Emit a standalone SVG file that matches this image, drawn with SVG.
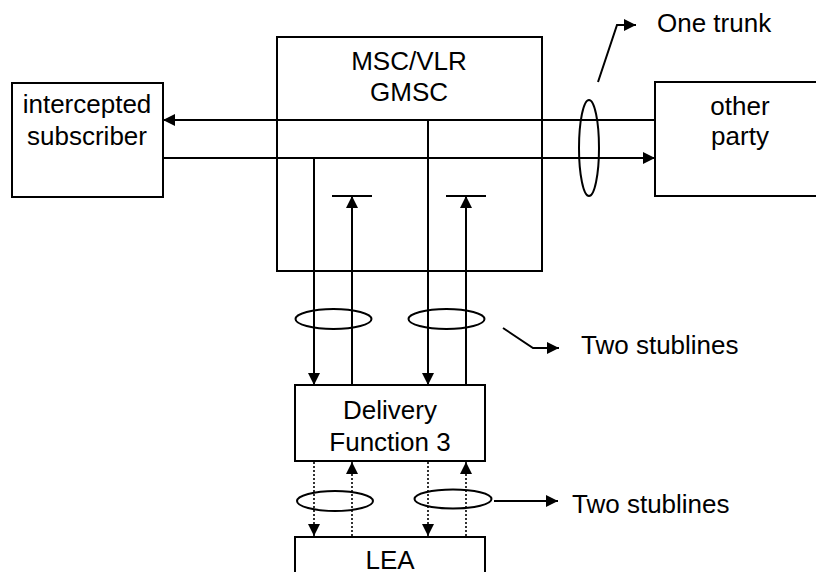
<svg xmlns="http://www.w3.org/2000/svg" width="816" height="572" viewBox="0 0 816 572">
<style>
.box{fill:#fff;stroke:#000;stroke-width:2}
.ln{fill:none;stroke:#000;stroke-width:2}
.dot{fill:none;stroke:#000;stroke-width:1.6;stroke-dasharray:2 2}
.el{fill:none;stroke:#000;stroke-width:2}
text{font-family:"Liberation Sans",Arial,sans-serif;font-size:26px;fill:#000}
.c{text-anchor:middle}
</style>
<defs>
<marker id="ah" markerUnits="userSpaceOnUse" markerWidth="14" markerHeight="14" viewBox="0 0 14 14" refX="13" refY="7" orient="auto">
<path d="M1,1 L13,7 L1,13 Z" fill="#000"/>
</marker>
</defs>
<rect width="816" height="572" fill="#fff"/>
<g id="msc">
<rect class="box" x="277" y="37" width="265" height="234"/>
<text class="c" x="409" y="70">MSC/VLR</text>
<text class="c" x="409" y="101">GMSC</text>
</g>
<g id="subscriber">
<rect class="box" x="12" y="83" width="151" height="114"/>
<text class="c" x="87" y="113">intercepted</text>
<text class="c" x="87" y="145">subscriber</text>
</g>
<g id="otherparty">
<rect class="box" x="655" y="82" width="180" height="114"/>
<text class="c" x="740" y="115">other</text>
<text class="c" x="740" y="145">party</text>
</g>
<g id="df3">
<rect class="box" x="295" y="385" width="190" height="76"/>
<text class="c" x="390" y="419">Delivery</text>
<text class="c" x="390" y="451">Function 3</text>
</g>
<g id="lea">
<rect class="box" x="295" y="537" width="190" height="60"/>
<text class="c" x="390" y="569">LEA</text>
</g>
<g id="connectors">
<line class="ln" x1="655" y1="120" x2="163" y2="120" marker-end="url(#ah)"/>
<line class="ln" x1="163" y1="158" x2="655" y2="158" marker-end="url(#ah)"/>
<line class="ln" x1="314" y1="158" x2="314" y2="385" marker-end="url(#ah)"/>
<line class="ln" x1="428" y1="120" x2="428" y2="385" marker-end="url(#ah)"/>
<line class="ln" x1="352" y1="385" x2="352" y2="196" marker-end="url(#ah)"/>
<line class="ln" x1="466" y1="385" x2="466" y2="196" marker-end="url(#ah)"/>
<line class="ln" x1="332" y1="196" x2="372" y2="196"/>
<line class="ln" x1="446" y1="196" x2="486" y2="196"/>
<line class="dot" x1="314" y1="462" x2="314" y2="536" marker-end="url(#ah)"/>
<line class="dot" x1="428" y1="462" x2="428" y2="536" marker-end="url(#ah)"/>
<line class="dot" x1="352" y1="536" x2="352" y2="462" marker-end="url(#ah)"/>
<line class="dot" x1="466" y1="536" x2="466" y2="462" marker-end="url(#ah)"/>
<ellipse class="el" cx="589" cy="148" rx="10" ry="48"/>
<ellipse class="el" cx="333.5" cy="319" rx="38" ry="10"/>
<ellipse class="el" cx="446.5" cy="319" rx="38" ry="10"/>
<ellipse class="el" cx="335" cy="501" rx="38" ry="10"/>
<ellipse class="el" cx="453" cy="499" rx="38.5" ry="9.5"/>
<polyline class="ln" points="598,82 617,25 636,25" marker-end="url(#ah)"/>
<polyline class="ln" points="503,328 533,348 559,348" marker-end="url(#ah)"/>
<line class="ln" x1="494" y1="501" x2="558" y2="501" marker-end="url(#ah)"/>
</g>
<text x="657" y="32">One trunk</text>
<text x="581" y="354">Two stublines</text>
<text x="572" y="513">Two stublines</text>
</svg>
